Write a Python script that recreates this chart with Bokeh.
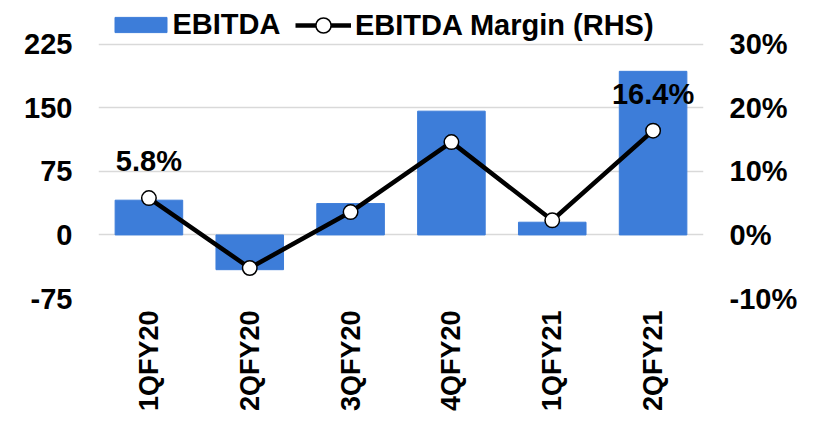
import math
from bokeh.plotting import figure
from bokeh.models import (Range1d, LinearAxis, FixedTicker, PrintfTickFormatter,
                          Legend, LegendItem, ColumnDataSource, LabelSet, FactorRange)
from bokeh.core.properties import value
from bokeh.embed import file_html
from bokeh.resources import INLINE

quarters = ["1QFY20", "2QFY20", "3QFY20", "4QFY20", "1QFY21", "2QFY21"]
ebitda = [41, -41, 37, 146, 15, 193]
margin = [5.8, -5.2, 3.6, 14.6, 2.3, 16.4]
margin_labels = ["5.8%", "", "", "", "", "16.4%"]
left_ticks = [-75, 0, 75, 150, 225]
right_ticks = [-10, 0, 10, 20, 30]

FONT = "Liberation Sans"
FS = "29px"
BLUE = "#3D7DD9"

src = ColumnDataSource(dict(q=quarters, ebitda=ebitda, margin=margin, lab=margin_labels))

# frame extends to the top of the figure so the legends sit inside it;
# the visible axes stop at 225 / 30% (headroom = 44 px at 64 px per 75 units)
p = figure(x_range=FactorRange(*quarters), y_range=Range1d(-75, 225 + 44 * 75 / 64),
           width=800, height=414, output_backend="svg", toolbar_location=None,
           min_border_left=98, min_border_right=96, min_border_top=0, min_border_bottom=113)
p.extra_y_ranges = {"pct": Range1d(-10, 30 + 44 * 10 / 64)}
p.outline_line_color = None
p.xgrid.grid_line_color = None
p.ygrid.grid_line_color = "#d9d9d9"
p.ygrid.grid_line_width = 1.5
p.ygrid.ticker = FixedTicker(ticks=left_ticks)

bars = p.vbar(x="q", top="ebitda", bottom=0, width=0.67, fill_color=BLUE, line_color=BLUE, source=src)
line = p.line(x="q", y="margin", y_range_name="pct", line_width=4.5, line_color="black", source=src)
pts = p.scatter(x="q", y="margin", y_range_name="pct", size=14.5, fill_color="white",
                line_color="black", line_width=1.5, source=src)

labels = LabelSet(x="q", y="margin", text="lab", y_range_name="pct", source=src,
                  text_align="center", text_baseline="alphabetic", y_offset=27,
                  text_font=value(FONT), text_font_size=value(FS), text_font_style="bold",
                  text_color="black")
p.add_layout(labels)

def style_axis(ax, standoff, fs=FS):
    ax.axis_line_color = None
    ax.major_tick_line_color = None
    ax.minor_tick_line_color = None
    ax.major_tick_out = 0
    ax.major_tick_in = 0
    ax.major_label_standoff = standoff
    ax.major_label_text_font = FONT
    ax.major_label_text_font_size = fs
    ax.major_label_text_font_style = "bold"
    ax.major_label_text_color = "black"

style_axis(p.yaxis[0], 26)
p.yaxis[0].ticker = FixedTicker(ticks=left_ticks)
p.yaxis[0].formatter = PrintfTickFormatter(format="%d")

right = LinearAxis(y_range_name="pct", ticker=FixedTicker(ticks=right_ticks),
                   formatter=PrintfTickFormatter(format="%d%%"))
style_axis(right, 26)
p.add_layout(right, "right")

style_axis(p.xaxis[0], 12, "27px")
p.xaxis[0].major_label_orientation = math.pi / 2

common = dict(orientation="horizontal", padding=0, margin=0, border_line_color=None,
              background_fill_alpha=0, label_text_font=FONT, label_text_font_size=FS,
              label_text_font_style="bold", label_text_color="black")
leg1 = Legend(items=[LegendItem(label="EBITDA", renderers=[bars])], location=(9.5, 257),
              glyph_width=65, glyph_height=19, label_standoff=0, **common)
leg2 = Legend(items=[LegendItem(label="EBITDA Margin (RHS)", renderers=[line, pts])],
              location=(197, 254), glyph_width=56, glyph_height=38, label_standoff=4, **common)
p.add_layout(leg1, "center")
p.add_layout(leg2, "center")

open("out.html", "w").write(file_html(p, INLINE))
